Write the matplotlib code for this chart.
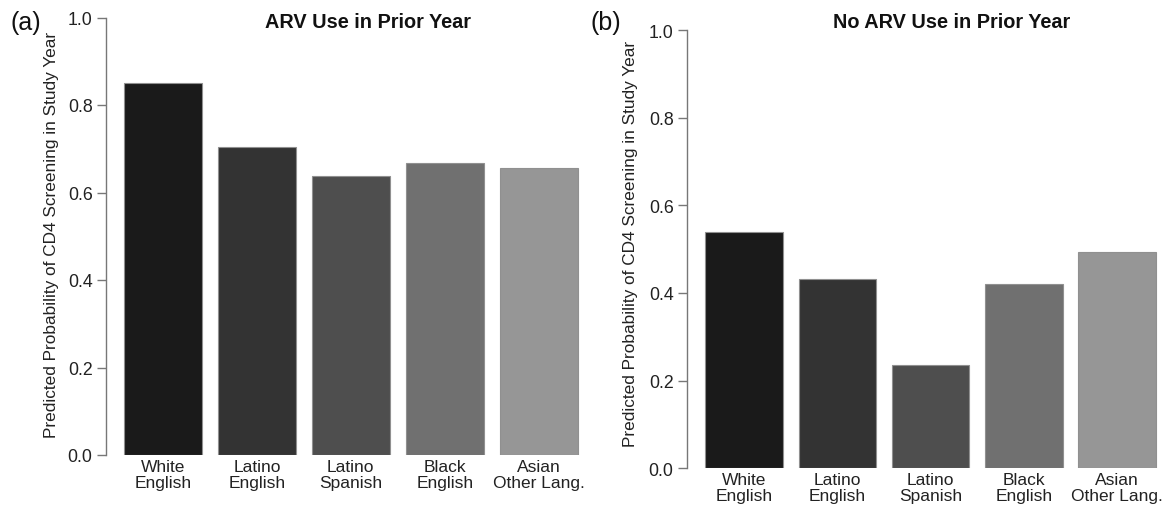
import numpy as np
import matplotlib.pyplot as plt

plt.rcParams['font.family'] = ['Liberation Sans', 'DejaVu Sans']

groups = ['White\nEnglish', 'Latino\nEnglish', 'Latino\nSpanish', 'Black\nEnglish', 'Asian\nOther Lang.']
arv_prior = [0.851, 0.705, 0.638, 0.667, 0.655]
no_arv_prior = [0.538, 0.431, 0.236, 0.420, 0.493]
bar_colors = ['#1a1a1a', '#333333', '#4e4e4e', '#707070', '#969696']
yticks = [0.0, 0.2, 0.4, 0.6, 0.8, 1.0]
ylab = 'Predicted Probability of CD4 Screening in Study Year'

W, H = 1174, 506
fig = plt.figure(figsize=(W / 100, H / 100), dpi=100)

# axes boxes in pixels: left, right, bottom(y of 0.0), top(y of 1.0)
boxes = [(105.7, 596, 456, 18.5), (686.7, 1174, 469.3, 31)]
panels = [arv_prior, no_arv_prior]
titles = ['ARV Use in Prior Year', 'No ARV Use in Prior Year']
title_x = [368, 952]
tags = ['(a)', '(b)']
tag_x = [10, 591]
ylab_pos = [(52, 234.5), (631, 243.5)]
xmin = [-0.032, -0.039]

pos = 0.7 + 1.2 * np.arange(len(groups))

for i in range(2):
    l, r, b, t = boxes[i]
    ax = fig.add_axes([l / W, 1 - b / H, (r - l) / W, (b - t) / H])
    ax.bar(pos, panels[i], width=1.0, color=bar_colors,
           edgecolor='#909090', linewidth=0.8)
    ax.set_xlim(xmin[i], 6.232)
    ax.set_ylim(0, 1)
    for s in ['top', 'right', 'bottom']:
        ax.spines[s].set_visible(False)
    ax.spines['left'].set_color('#777777')
    ax.spines['left'].set_linewidth(1.0)
    ax.set_yticks(yticks)
    ax.set_yticklabels(['%.1f' % v for v in yticks])
    ax.tick_params(axis='y', length=6.5, width=1.0, color='#777777',
                   labelsize=12.8, labelcolor='#222222', pad=3)
    ax.set_xticks(pos)
    ax.set_xticklabels(groups)
    ax.tick_params(axis='x', length=0, labelsize=12.5, labelcolor='#222222', pad=3)
    for lab in ax.get_xticklabels():
        lab.set_linespacing(1.05)
    ax.patch.set_visible(False)

    fig.text(title_x[i] / W, 1 - 23 / H, titles[i], ha='center', va='center',
             fontsize=14.3, fontweight='bold', color='#111111')
    fig.text(tag_x[i] / W, 1 - 23 / H, tags[i], ha='left', va='center',
             fontsize=18, color='#111111')
    fig.text(ylab_pos[i][0] / W, 1 - ylab_pos[i][1] / H, ylab, rotation=90,
             ha='center', va='center', fontsize=12.4, color='#222222')

fig.savefig('out.png', dpi=100)
